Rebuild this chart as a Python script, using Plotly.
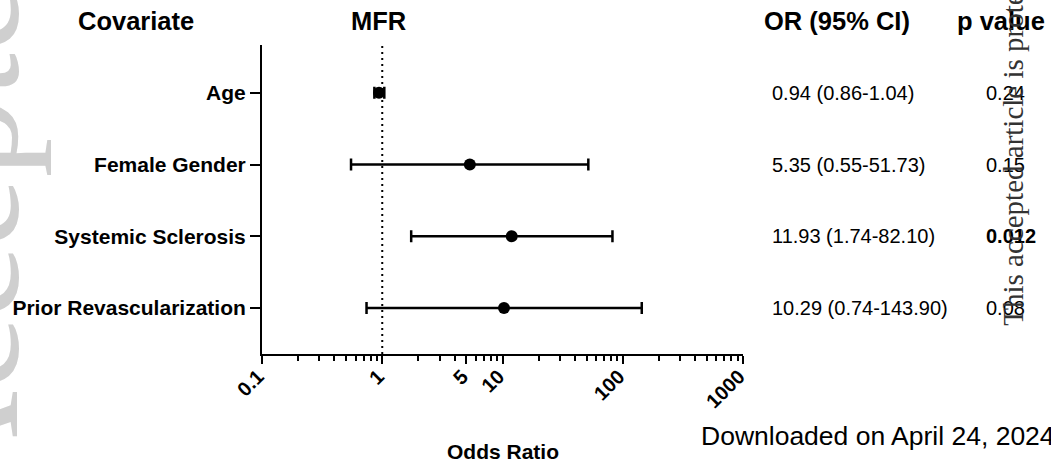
import plotly.graph_objects as go

covariates = ["Age", "Female Gender", "Systemic Sclerosis", "Prior Revascularization"]
or_vals = [0.94, 5.35, 11.93, 10.29]
ci_low = [0.86, 0.55, 1.74, 0.74]
ci_high = [1.04, 51.73, 82.10, 143.90]
p_values = ["0.24", "0.15", "0.012", "0.08"]
p_bold = [False, False, True, False]
x_tickvals = [0.1, 1, 5, 10, 100, 1000]
x_ticktext = ["0.1", "1", "5", "10", "100", "1000"]
x_minor = [0.2, 0.3, 0.4, 0.5, 0.6, 0.7, 0.8, 0.9,
           2, 3, 4, 6, 7, 8, 9,
           20, 30, 40, 50, 60, 70, 80, 90,
           200, 300, 400, 500, 600, 700, 800, 900]

FONT = "Arial, Liberation Sans, Helvetica, sans-serif"
SERIF = "Liberation Serif, Times New Roman, Times, serif"

rows = list(range(len(covariates)))
err_plus = [h - v for h, v in zip(ci_high, or_vals)]
err_minus = [v - l for v, l in zip(or_vals, ci_low)]

fig = go.Figure()
fig.add_trace(go.Scatter(
    x=or_vals, y=rows, mode="markers",
    marker=dict(color="black", size=12, symbol="circle"),
    error_x=dict(type="data", array=err_plus, arrayminus=err_minus,
                 color="black", thickness=2.5, width=6, symmetric=False),
    showlegend=False, hoverinfo="skip",
))

# reference line at OR = 1
fig.add_shape(type="line", xref="x", yref="paper", x0=1, x1=1, y0=0, y1=1,
              line=dict(color="black", width=2, dash="2px,4px"), layer="below")

# watermark (light grey), drawn beneath the axis labels
wx, wy = -0.657, 0.485
fig.add_shape(type="rect", xref="paper", yref="paper",
              x0=wx - 0.02, x1=wx + 0.02, y0=wy - 0.02, y1=wy + 0.02,
              line=dict(width=0), fillcolor="rgba(0,0,0,0)", layer="below",
              label=dict(text="Accepted", textangle=-90, textposition="middle center",
                         font=dict(family=SERIF, size=160, color="#cfcfcf")))

annotations = []
# headers
hdr_font = dict(family=FONT, size=25.5, color="black", weight="bold")
annotations += [
    dict(text="Covariate", xref="paper", yref="paper", x=-0.2628, y=1.0777,
         xanchor="center", yanchor="middle", showarrow=False, font=hdr_font),
    dict(text="MFR", xref="paper", yref="paper", x=0.2413, y=1.0777,
         xanchor="center", yanchor="middle", showarrow=False, font=hdr_font),
    dict(text="OR (95% CI)", xref="paper", yref="paper", x=1.0390, y=1.0777,
         xanchor="left", yanchor="middle", showarrow=False, font=hdr_font),
    dict(text="p value", xref="paper", yref="paper", x=1.4400, y=1.0777,
         xanchor="left", yanchor="middle", showarrow=False, font=hdr_font),
]

# OR and p value columns
for r, v, lo, hi, p, b in zip(rows, or_vals, ci_low, ci_high, p_values, p_bold):
    annotations.append(dict(text=f"{v:.2f} ({lo:.2f}-{hi:.2f})", xref="paper", yref="y",
                            x=1.0554, y=r, xanchor="left", yanchor="middle", showarrow=False,
                            font=dict(family=FONT, size=20, color="black")))
    annotations.append(dict(text=p, xref="paper", yref="y",
                            x=1.501, y=r, xanchor="left", yanchor="middle", showarrow=False,
                            font=dict(family=FONT, size=20, color="black",
                                      weight="bold" if b else "normal")))

# x axis title
annotations.append(dict(text="Odds Ratio", xref="paper", yref="paper", x=0.501, y=-0.317,
                        xanchor="center", yanchor="middle", showarrow=False,
                        font=dict(family=FONT, size=21, color="black", weight="bold")))

# download stamp
annotations.append(dict(text="Downloaded on April 24, 2024", xref="paper", yref="paper",
                        x=0.9076, y=-0.2654, xanchor="left", yanchor="middle", showarrow=False,
                        font=dict(family=FONT, size=26.5, color="black")))
# rotated stamp
annotations.append(dict(text="This accepted article is protected by copyright. All rights reserved.",
                        xref="paper", yref="paper", x=1.5606, y=0.084,
                        xanchor="center", yanchor="bottom", textangle=-90, showarrow=False,
                        font=dict(family=SERIF, size=29, color="#333333")))

fig.update_layout(
    width=1051, height=464, autosize=False,
    margin=dict(l=256, r=308, t=45, b=110),
    paper_bgcolor="white", plot_bgcolor="white",
    annotations=annotations,
    xaxis=dict(type="log", range=[-1, 3], tickmode="array",
               tickvals=x_tickvals, ticktext=x_ticktext, tickangle=-45,
               ticks="outside", ticklen=8, tickwidth=2, tickcolor="black",
               ticklabelstandoff=-7, ticklabelshift=-4,
               showline=True, linewidth=2, linecolor="black",
               showgrid=False, zeroline=False,
               tickfont=dict(family=FONT, size=20, color="black", weight="bold"),
               minor=dict(tickmode="array", tickvals=x_minor, ticks="outside",
                          ticklen=5, tickwidth=2, tickcolor="black", showgrid=False)),
    yaxis=dict(range=[3.64, -0.667], tickmode="array", tickvals=rows, ticktext=covariates,
               ticks="outside", ticklen=10, tickwidth=2, tickcolor="black",
               showline=True, linewidth=2, linecolor="black",
               showgrid=False, zeroline=False,
               tickfont=dict(family=FONT, size=21, color="black", weight="bold")),
)

fig.write_html("out.html")
